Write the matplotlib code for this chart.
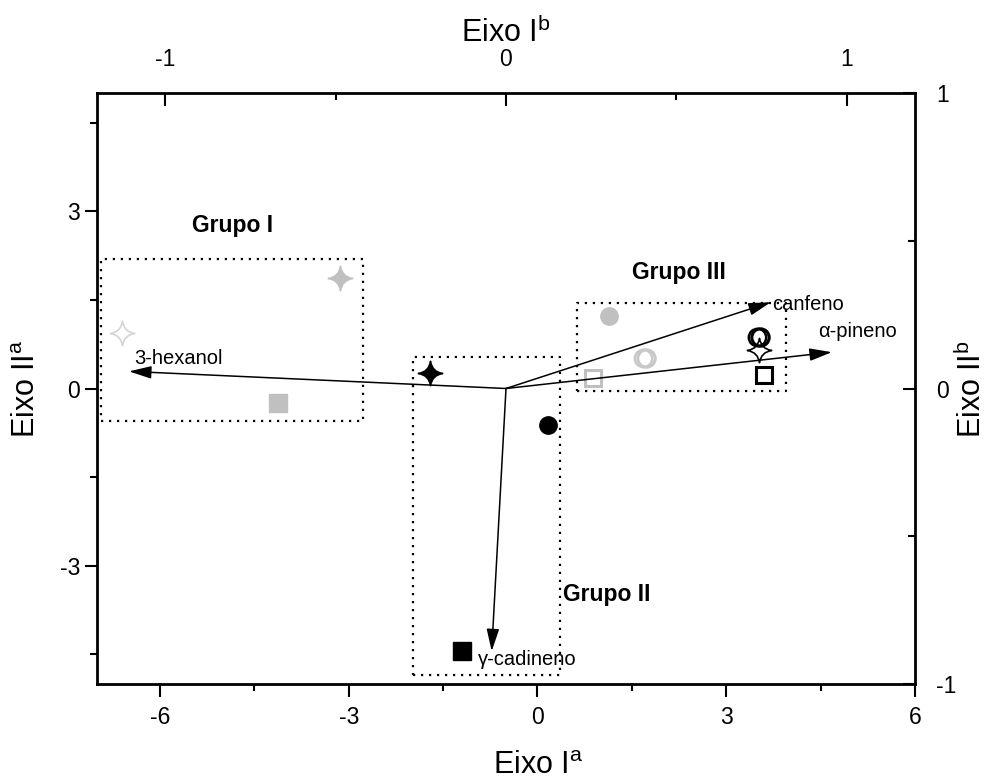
import matplotlib
matplotlib.use("Agg")
import matplotlib.pyplot as plt
from matplotlib.path import Path
from matplotlib.transforms import ScaledTranslation

plt.rcParams['font.family'] = ['Liberation Sans', 'DejaVu Sans']
plt.rcParams['mathtext.fontset'] = 'custom'
plt.rcParams['mathtext.rm'] = 'Liberation Sans'
plt.rcParams['mathtext.it'] = 'Liberation Sans:italic'
plt.rcParams['axes.unicode_minus'] = False

# ---- data ----
# sample scores (primary axes: Eixo I^a / Eixo II^a)
sample_x = [-1.71, 3.52, -3.14, -6.61, 0.17, 3.49, 1.13, 1.68, -1.20, 3.60, -4.12, 0.89]
sample_y = [0.27, 0.65, 1.87, 0.94, -0.62, 0.87, 1.22, 0.51, -4.44, 0.23, -0.24, 0.17]
sample_marker = ['star', 'star', 'star', 'star', 'o', 'o', 'o', 'o', 's', 's', 's', 's']
sample_fill = ['black', 'none', '#c0c0c0', 'none', 'black', 'none', '#c0c0c0', 'none',
               'black', 'none', '#c0c0c0', 'none']
sample_edge = ['black', 'black', '#c0c0c0', '#d4d4d4', 'black', 'black', '#c0c0c0', '#c8c8c8',
               'black', 'black', '#c0c0c0', '#c0c0c0']

# variable loadings (secondary axes: Eixo I^b / Eixo II^b)
var_names = ['3-hexanol', 'canfeno', 'α-pineno', 'γ-cadineno']
var_x = [-1.106, 0.777, 0.956, -0.042]
var_y = [0.058, 0.292, 0.123, -0.889]

# groups
group_names = ['Grupo I', 'Grupo II', 'Grupo III']
group_x0 = [-6.93, -1.98, 0.63]
group_x1 = [-2.78, 0.36, 3.95]
group_y0 = [-0.55, -4.85, -0.04]
group_y1 = [2.19, 0.54, 1.45]
group_label_x = [-4.84, 1.10, 2.25]
group_label_y = [2.75, -3.48, 1.97]

xticks_a = [-6, -3, 0, 3, 6]
yticks_a = [-3, 0, 3]
ticks_b = [-1, 0, 1]

# ---- figure ----
W, H = 990, 784
fig = plt.figure(figsize=(9.9, 7.84), dpi=100)
rect = [97 / W, 1 - 684 / H, (915 - 97) / W, (684 - 93) / H]
ax = fig.add_axes(rect)
ax2 = fig.add_axes(rect, frameon=False)

ax.set_xlim(-7, 6)
ax.set_ylim(-5, 5)
ax.set_xticks(xticks_a)
ax.set_xticks([-4.5, -1.5, 1.5, 4.5], minor=True)
ax.set_yticks(yticks_a)
ax.set_yticks([-4.5, -1.5, 1.5, 4.5], minor=True)
ax.tick_params(which='major', direction='out', length=9, width=1.5, labelsize=16.5)
ax.tick_params(axis='x', which='major', pad=7)
ax.tick_params(axis='y', which='major', pad=3)
ax.tick_params(which='minor', direction='out', length=5, width=1.5)
for s in ax.spines.values():
    s.set_linewidth(2)

ax2.set_xlim(-1.2, 1.2)
ax2.set_ylim(-1, 1)
ax2.xaxis.tick_top()
ax2.yaxis.tick_right()
ax2.set_xticks(ticks_b)
ax2.set_xticks([-0.5, 0.5], minor=True)
ax2.set_yticks(ticks_b)
ax2.set_yticks([-0.5, 0.5], minor=True)
ax2.tick_params(which='major', direction='in', length=9, width=1.5, labelsize=16.5)
ax2.tick_params(which='minor', direction='in', length=5, width=1.5)
ax2.tick_params(axis='x', which='major', pad=16)
ax2.tick_params(axis='y', which='major', pad=15)

# axis titles
fig.text(538 / W, 1 - 766 / H, r'Eixo I$^{\mathrm{a}}$', fontsize=22, ha='center', va='center')
fig.text(506 / W, 1 - 33 / H, r'Eixo I$^{\mathrm{b}}$', fontsize=22, ha='center', va='center')
fig.text(27 / W, 1 - 389 / H, r'Eixo II$^{\mathrm{a}}$', fontsize=22, ha='center', va='center',
         rotation=90)
fig.text(972 / W, 1 - 389 / H, r'Eixo II$^{\mathrm{b}}$', fontsize=22, ha='center', va='center',
         rotation=90)

# 4-point star marker
c = 0.13
star_path = Path([(0, 1), (c, c), (1, 0), (c, -c), (0, -1), (-c, -c), (-1, 0), (-c, c), (0, 1), (0, 1)],
                 [Path.MOVETO] + [Path.CURVE3] * 8 + [Path.CLOSEPOLY])

# group boxes
for x0, x1, y0, y1 in zip(group_x0, group_x1, group_y0, group_y1):
    ax.plot([x0, x1, x1, x0, x0], [y0, y0, y1, y1, y0], color='black', lw=1.6,
            linestyle=(0, (1, 2.6)), zorder=2)
for name, gx, gy in zip(group_names, group_label_x, group_label_y):
    ax.text(gx, gy, name, fontsize=16.5, fontweight='bold', ha='center', va='center')

# samples
shadow = ax.transData + ScaledTranslation(2.5 / 100, 0, fig.dpi_scale_trans)
for x, y, m, fc, ec in zip(sample_x, sample_y, sample_marker, sample_fill, sample_edge):
    if m == 'star':
        ax.plot(x, y, marker=star_path, markersize=17.5, markerfacecolor=fc if fc != 'none' else 'white',
                markeredgecolor=ec, markeredgewidth=1.2, linestyle='none', zorder=3)
    elif m == 'o':
        if fc == 'none':
            ax.plot(x, y, marker='o', markersize=12.5, markerfacecolor='none', markeredgecolor=ec,
                    markeredgewidth=2.2, linestyle='none', zorder=3, transform=shadow)
            ax.plot(x, y, marker='o', markersize=12.5, markerfacecolor='none', markeredgecolor=ec,
                    markeredgewidth=1.8, linestyle='none', zorder=3)
        else:
            ax.plot(x, y, marker='o', markersize=12.5, markerfacecolor=fc, markeredgecolor=ec,
                    linestyle='none', zorder=3)
    else:
        if fc == 'none':
            ax.plot(x, y, marker='s', markersize=12, markerfacecolor='none', markeredgecolor=ec,
                    markeredgewidth=2.2, linestyle='none', zorder=3)
        else:
            ax.plot(x, y, marker='s', markersize=12.5, markerfacecolor=fc, markeredgecolor=ec,
                    linestyle='none', zorder=3)

# loading arrows
label_offsets = [(4, 9), (1, -2), (-10, 15), (-10, -6)]
for name, vx, vy, off in zip(var_names, var_x, var_y, label_offsets):
    ax2.annotate('', xy=(vx, vy), xytext=(0, 0),
                 arrowprops=dict(arrowstyle='-|>,head_length=0.85,head_width=0.24', color='black',
                                 lw=1.1, mutation_scale=16, shrinkA=0, shrinkB=0))
    ax2.annotate(name, xy=(vx, vy), xytext=off, textcoords='offset points', fontsize=14.5,
                 ha='left', va='center')

fig.savefig('out.png', dpi=100)
